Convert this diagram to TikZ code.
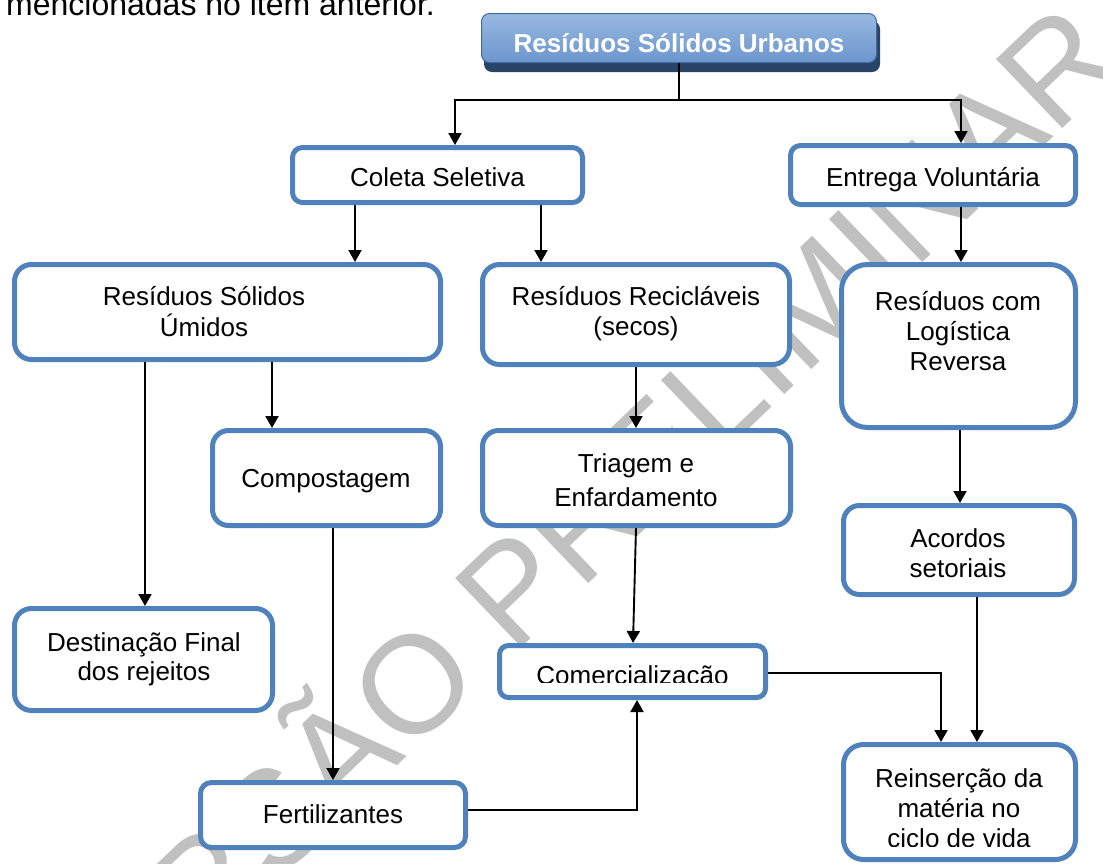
\documentclass[tikz,border=0pt]{standalone}
\usepackage{fontspec}
\setmainfont{Liberation Sans}
\usetikzlibrary{arrows.meta}
\definecolor{boxblue}{RGB}{79,129,189}
\definecolor{wmgray}{RGB}{192,192,192}
\definecolor{titletop}{RGB}{152,184,224}
\definecolor{titlemid}{RGB}{79,128,190}
\definecolor{titlebot}{RGB}{108,150,206}
\definecolor{titleshadow}{RGB}{40,68,104}
\definecolor{titleline}{RGB}{66,108,160}

\newcommand\mkbox[6]{%
 \pgfmathsetmacro\bxc{(#2+#4)/2}%
 \pgfmathsetmacro\byc{(#3+#5)/2}%
 \pgfmathsetmacro\bw{#4-#2-5}%
 \pgfmathsetmacro\bh{#5-#3-5}%
 \node[flowbox, minimum width=\bw pt, minimum height=\bh pt, rounded corners=#6pt] (#1) at (\bxc,\byc) {};}

\tikzset{
 flowbox/.style={draw=boxblue, line width=5pt, fill=white, inner sep=0pt, outer sep=2.5pt},
 lbl/.style={anchor=base, inner sep=0pt, font=\fontsize{26}{30}\selectfont, text=black},
 conn/.style={line width=1.9pt, draw=black},
 arr/.style={conn, -{Triangle[length=12pt,width=13pt]}},
}

\begin{document}
\begin{tikzpicture}[x=1pt,y=-1pt]
\useasboundingbox (0,0) rectangle (1103,863);
\fill[white] (0,0) rectangle (1103,863);

% watermark
\node[rotate=43.8, anchor=base, inner sep=0pt, text=wmgray, font=\fontsize{139}{139}\selectfont] (wm) at (597,575) {VERSÃO PRELIMINAR};

% preceding text line (cut off at top)
\node[anchor=base west, inner sep=0pt, font=\fontsize{32}{32}\selectfont] (intro) at (6,15) {mencionadas no item anterior.};

% title
\fill[titleshadow, rounded corners=8pt] (484,21) rectangle (880,72);
\node[draw=titleline, line width=1pt, top color=titletop, middle color=titlemid, bottom color=titlebot, rounded corners=8pt,
      minimum width=395pt, minimum height=49pt, inner sep=0pt] (title) at (679,38) {};
\node[lbl, text=white, font=\bfseries\fontsize{26}{30}\selectfont] (title-t) at (679,52) {Resíduos Sólidos Urbanos};

% boxes
\mkbox{coleta}{290}{145}{585}{205}{10}
\mkbox{entrega}{788}{143}{1078}{207}{10}
\mkbox{umidos}{12}{262}{443}{362}{17}
\mkbox{recicl}{480}{262}{792}{367}{17}
\mkbox{logist}{839}{262}{1078}{430}{26}
\mkbox{compost}{210}{428}{443}{528}{16}
\mkbox{triagem}{480}{428}{793}{528}{16}
\mkbox{acordos}{841}{503}{1077}{597}{16}
\mkbox{dest}{12}{606}{275}{713}{17}
\mkbox{comerc}{497}{643}{768}{700}{9}
\mkbox{fert}{198}{780}{468}{850}{11}
\mkbox{reins}{841}{742}{1078}{862}{20}

% labels
\node[lbl] (coleta-t) at (437.5,186) {Coleta Seletiva};
\node[lbl] (entrega-t) at (933,186) {Entrega Voluntária};
\node[lbl] (umidos-t1) at (204,305) {Resíduos Sólidos};
\node[lbl] (umidos-t2) at (204,336) {Úmidos};
\node[lbl] (recicl-t1) at (636,305) {Resíduos Recicláveis};
\node[lbl] (recicl-t2) at (636,335) {(secos)};
\node[lbl] (logist-t1) at (958,310) {Resíduos com};
\node[lbl] (logist-t2) at (958,340) {Logística};
\node[lbl] (logist-t3) at (958,370) {Reversa};
\node[lbl] (compost-t) at (326,487) {Compostagem};
\node[lbl] (triagem-t1) at (636,472) {Triagem e};
\node[lbl] (triagem-t2) at (636,506) {Enfardamento};
\node[lbl] (acordos-t1) at (958,547) {Acordos};
\node[lbl] (acordos-t2) at (958,577) {setoriais};
\node[lbl] (dest-t1) at (144,651) {Destinação Final};
\node[lbl] (dest-t2) at (144,680) {dos rejeitos};
\begin{scope}
\clip (500,646) rectangle (765,682);
\node[lbl] (comerc-t) at (632.5,684) {Comercialização};
\end{scope}
\node[lbl] (fert-t) at (333,823) {Fertilizantes};
\node[lbl] (reins-t1) at (959,787) {Reinserção da};
\node[lbl] (reins-t2) at (959,817) {matéria no};
\begin{scope}
\clip (845,825) rectangle (1074,846);
\node[lbl] (reins-t3) at (959,847) {ciclo de vida};
\end{scope}

% helper coordinates
\coordinate (jt) at (679,100);
\coordinate (xcol) at (455,0);
\coordinate (xent) at (961,0);
\coordinate (x355) at (355,0);
\coordinate (x541) at (541,0);
\coordinate (x145) at (145,0);
\coordinate (x272) at (272,0);
\coordinate (x636) at (636,0);
\coordinate (x633) at (633,0);
\coordinate (x333) at (333,0);
\coordinate (x960) at (960,0);
\coordinate (x977) at (977,0);
\coordinate (c1) at (637,810);
\coordinate (c2) at (941,673);

% connectors
\draw[conn] (title.south) -- (jt);
\draw[arr] (jt) -| (coleta.north -| xcol);
\draw[arr] (jt) -| (entrega.north -| xent);
\draw[arr] (coleta.south -| x355) -- (umidos.north -| x355);
\draw[arr] (coleta.south -| x541) -- (recicl.north -| x541);
\draw[arr] (entrega.south -| xent) -- (logist.north -| xent);
\draw[arr] (umidos.south -| x145) -- (dest.north -| x145);
\draw[arr] (umidos.south -| x272) -- (compost.north -| x272);
\draw[arr] (recicl.south -| x636) -- (triagem.north -| x636);
\draw[arr] (triagem.south -| x636) -- (comerc.north -| x633);
\draw[arr] (compost.south -| x333) -- (fert.north -| x333);
\draw[arr] (fert.east |- c1) -- (c1) -- (comerc.south -| c1);
\draw[arr] (comerc.east |- c2) -- (c2) -- (reins.north -| c2);
\draw[arr] (logist.south -| x960) -- (acordos.north -| x960);
\draw[arr] (acordos.south -| x977) -- (reins.north -| x977);
\end{tikzpicture}
\end{document}
